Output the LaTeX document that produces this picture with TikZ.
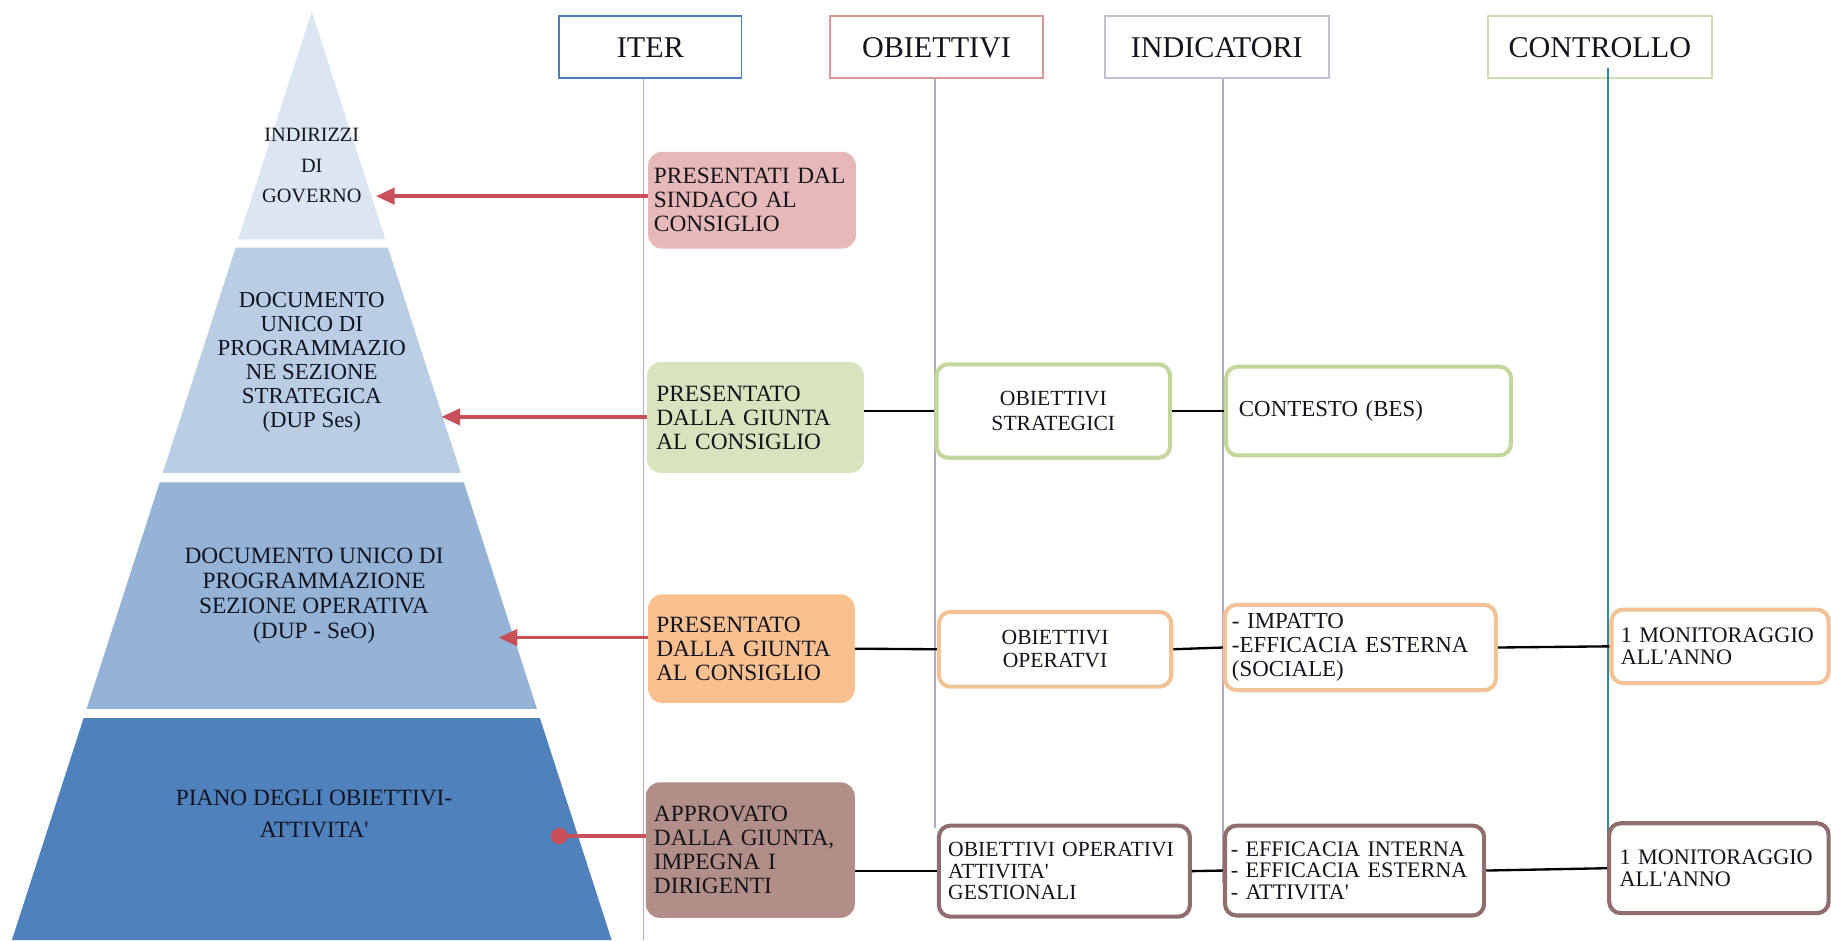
\documentclass[tikz,border=0pt]{standalone}
\usepackage{fontspec}
\setmainfont{Liberation Serif}
\usetikzlibrary{arrows.meta}
\definecolor{ink}{RGB}{20,20,30}
\definecolor{pyrone}{RGB}{220,230,242}
\definecolor{pyrtwo}{RGB}{185,205,229}
\definecolor{pyrthree}{RGB}{149,179,215}
\definecolor{pyrfour}{RGB}{79,129,189}
\definecolor{itpink}{RGB}{230,185,184}
\definecolor{itgreen}{RGB}{215,228,189}
\definecolor{itorange}{RGB}{250,192,144}
\definecolor{itbrown}{RGB}{178,142,136}
\definecolor{bdgreen}{RGB}{195,214,155}
\definecolor{bdorange}{RGB}{242,195,150}
\definecolor{bdbrown}{RGB}{145,110,110}
\definecolor{hdblue}{RGB}{75,125,185}
\definecolor{hdred}{RGB}{217,150,148}
\definecolor{hdgray}{RGB}{195,192,212}
\definecolor{hdgreen}{RGB}{205,220,175}
\definecolor{vline}{RGB}{175,170,205}
\definecolor{ctrline}{RGB}{50,130,150}
\definecolor{arrowred}{RGB}{200,80,88}
\newcommand{\apo}{\textquotesingle}
\begin{document}
\begin{tikzpicture}
  [x=1pt,y=-1pt,every node/.style={text=ink,inner sep=0pt,font=\fontsize{20}{20.5}\selectfont},
  head/.style={draw=#1,line width=1.5pt,minimum height=53pt,font=\fontsize{25.8}{26}\selectfont},
  itbox/.style={fill=#1,rounded corners=12pt,inner xsep=7pt,align=left},
  obox/.style={draw=#1,line width=3.5pt,fill=white,rounded corners=10pt},
  redarrow/.style={draw=arrowred,line width=3pt},
  link/.style={draw=black,line width=2pt}]
  \useasboundingbox (0,0) rectangle (1568,805);

  \fill[pyrone] (267,10) -- (330,205) -- (204,205) -- cycle;
  \fill[pyrtwo] (201.8,212) -- (332.2,212) -- (394.6,405) -- (139.4,405) -- cycle;
  \fill[pyrthree] (136.8,413) -- (397.2,413) -- (459.8,607) -- (74.2,607) -- cycle;
  \fill[pyrfour] (71.6,615) -- (462.4,615) -- (523.8,805) -- (10.2,805) -- cycle;

  \node[align=center,font=\fontsize{17.4}{26}\selectfont] (pyrA) at (267,142) {INDIRIZZI\\DI\\GOVERNO};
  \node[align=center,font=\fontsize{19.6}{20.6}\selectfont] (pyrB) at (267,310) {DOCUMENTO\\UNICO DI\\PROGRAMMAZIO\\NE SEZIONE\\STRATEGICA\\(DUP Ses)};
  \node[align=center,font=\fontsize{20}{21.3}\selectfont] (pyrC) at (269,510) {DOCUMENTO UNICO DI\\PROGRAMMAZIONE\\SEZIONE OPERATIVA\\(DUP - SeO)};
  \node[align=center,font=\fontsize{20}{28}\selectfont] (pyrD) at (269,697) {PIANO DEGLI OBIETTIVI-\\ATTIVITA\apo};

  \node[head=hdblue,minimum width=156pt] (hIter) at (557,40.5) {ITER};
  \node[head=hdred,minimum width=182pt] (hObi) at (802,40.5) {OBIETTIVI};
  \node[head=hdgray,minimum width=192pt] (hInd) at (1042,40.5) {INDICATORI};
  \node[head=hdgreen,minimum width=192pt] (hCtrl) at (1370,40.5) {CONTROLLO};

  \coordinate (iterEnd) at (551,805);
  \coordinate (obiEnd) at (801,709);
  \coordinate (indEnd) at (1047,756);
  \coordinate (ctrlTop) at (1377,58);
  \coordinate (ctrlEnd) at (1377,736);
  \draw[vline,line width=1.5pt] (hIter.south -| iterEnd) -- (iterEnd);
  \draw[vline,line width=1.5pt] (hObi.south -| obiEnd) -- (obiEnd);
  \draw[vline,line width=1.5pt] (hInd.south -| indEnd) -- (indEnd);
  \draw[ctrline,line width=2pt] (ctrlTop) -- (ctrlEnd);

  \node[itbox=itpink,inner xsep=5pt,text width=168pt,minimum height=83pt] (itA) at (644,171.5) {PRESENTATI DAL\\SINDACO AL\\CONSIGLIO};
  \node[itbox=itgreen,inner xsep=8pt,text width=170pt,minimum height=95pt] (itB) at (647,357.5) {PRESENTATO\\DALLA GIUNTA\\AL CONSIGLIO};
  \node[itbox=itorange,text width=163pt,minimum height=93pt] (itC) at (643.5,555.5) {PRESENTATO\\DALLA GIUNTA\\AL CONSIGLIO};
  \node[itbox=itbrown,text width=165pt,minimum height=116pt] (itD) at (642.5,728) {APPROVATO\\DALLA GIUNTA,\\IMPEGNA I\\DIRIGENTI};

  \coordinate (tipA) at (322,168);
  \coordinate (tipB) at (378,357);
  \coordinate (tipC) at (427,546);
  \coordinate (tipD) at (472,716);
  \draw[redarrow,-{Triangle[length=16pt,width=14pt]}] (itA.west |- tipA) -- (tipA);
  \draw[redarrow,-{Triangle[length=16pt,width=14pt]}] (itB.west |- tipB) -- (tipB);
  \draw[redarrow,-{Triangle[length=16pt,width=14pt]}] (itC.west |- tipC) -- (tipC);
  \draw[redarrow,-{Circle[length=14pt]}] (itD.west |- tipD) -- (tipD);

  \node[obox=bdgreen,align=center,minimum width=200pt,minimum height=80pt,font=\fontsize{18.5}{21}\selectfont] (obA) at (902,352) {OBIETTIVI\\STRATEGICI};
  \node[obox=bdorange,align=center,minimum width=199pt,minimum height=64pt,font=\fontsize{18.5}{20}\selectfont] (obB) at (903.5,556) {OBIETTIVI\\OPERATVI};
  \node[obox=bdbrown,align=left,inner xsep=8pt,text width=199pt,minimum height=78pt,font=\fontsize{18.5}{18.5}\selectfont] (obC) at (911.5,746) {OBIETTIVI OPERATIVI\\ATTIVITA\apo\\GESTIONALI};

  \node[obox=bdgreen,align=left,inner xsep=11pt,text width=222pt,minimum height=76pt,font=\fontsize{19.6}{20.5}\selectfont] (inA) at (1172,352) {CONTESTO (BES)};
  \node[obox=bdorange,align=left,inner xsep=6pt,text width=220pt,minimum height=73pt,font=\fontsize{19.6}{20.5}\selectfont] (inB) at (1165,554.5) {- IMPATTO\\-EFFICACIA ESTERNA\\(SOCIALE)};
  \node[obox=bdbrown,align=left,inner xsep=5pt,text width=212pt,minimum height=77pt,font=\fontsize{19}{18.5}\selectfont] (inC) at (1160,745.5) {- EFFICACIA INTERNA\\- EFFICACIA ESTERNA\\- ATTIVITA\apo};

  \node[obox=bdorange,align=left,inner xsep=8pt,text width=170pt,minimum height=63pt,font=\fontsize{19}{19}\selectfont] (coA) at (1473,553.5) {1 MONITORAGGIO\\ALL\apo ANNO};
  \node[obox=bdbrown,align=left,inner xsep=9pt,text width=170pt,minimum height=77pt,font=\fontsize{19}{19}\selectfont] (coB) at (1472,743.5) {1 MONITORAGGIO\\ALL\apo ANNO};

  \draw[link] (itB.east |- obA.west) -- (obA.west);
  \draw[link] (obA.east) -- (inA.west);
  \draw[link] (itC.east) -- (obB.west);
  \draw[link] (obB.east) -- (inB.west);
  \draw[link] (inB.east) -- (coA.west);
  \draw[link] (itD.east |- obC.west) -- (obC.west);
  \draw[link] (obC.east) -- (inC.west);
  \draw[link] (inC.east) -- (coB.west);

\end{tikzpicture}
\end{document}
